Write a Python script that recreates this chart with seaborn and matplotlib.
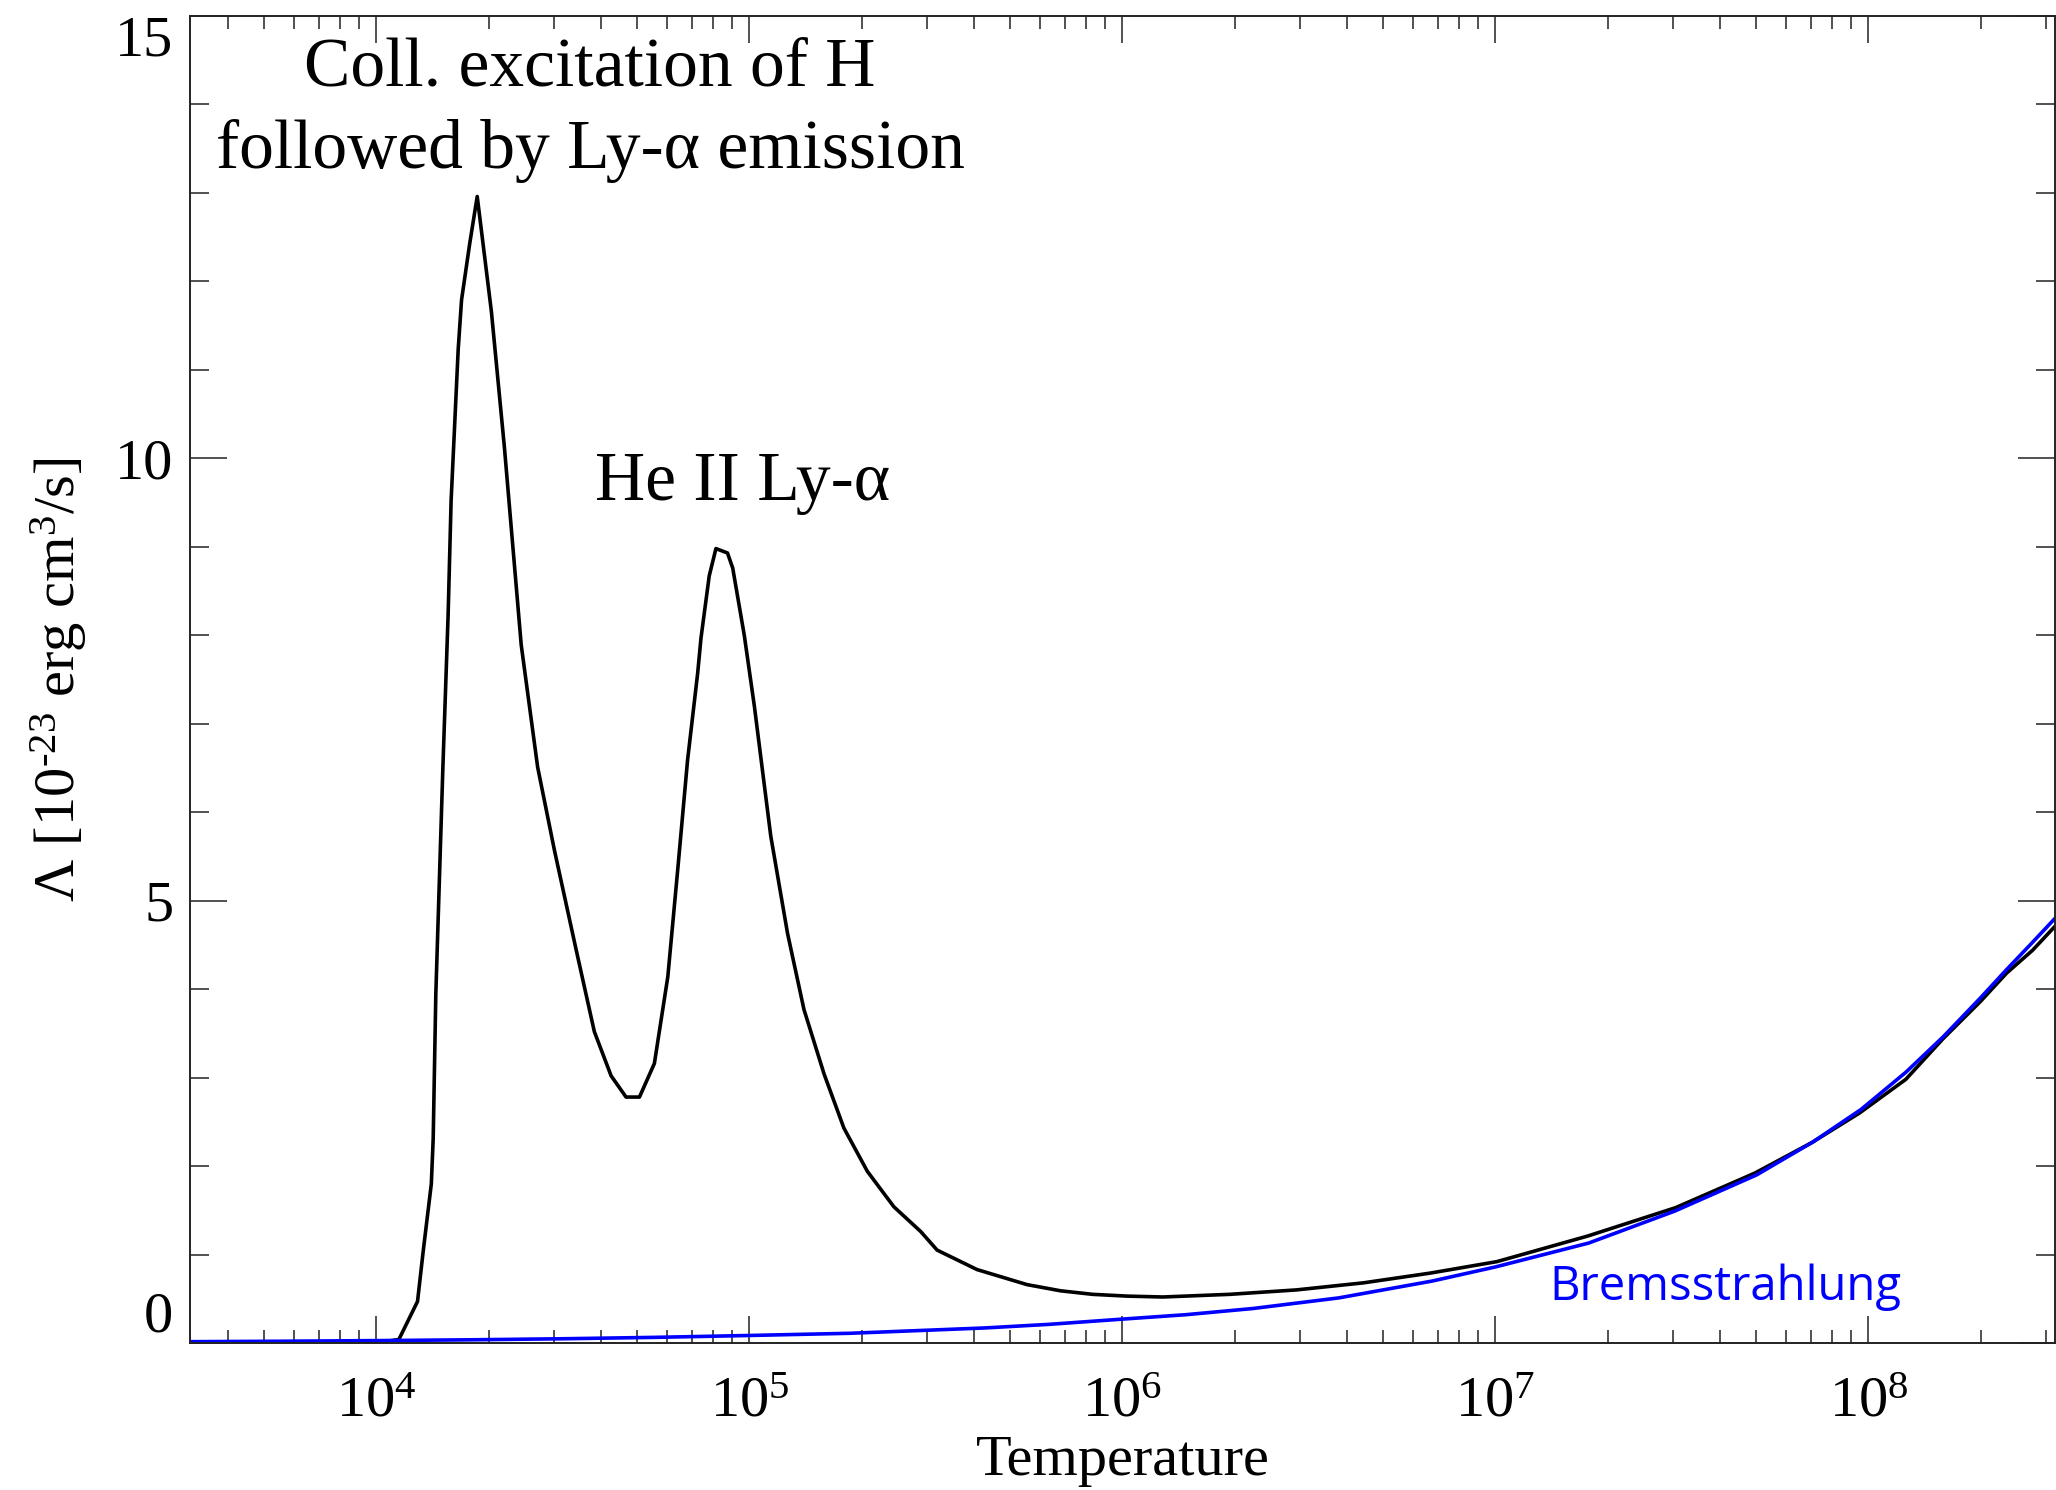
import numpy as np
import pandas as pd
import matplotlib
matplotlib.use("Agg")
import matplotlib.pyplot as plt
from matplotlib.ticker import FixedLocator, LogLocator, MultipleLocator, NullFormatter
import seaborn as sns

# ---- data ----
# total cooling curve: log10(T) and Lambda [1e-23 erg cm^3/s]
total_logT = [3.50, 4.00, 4.06, 4.11, 4.125, 4.147, 4.152, 4.159, 4.178, 4.192, 4.20,
              4.219, 4.228, 4.25, 4.27, 4.308, 4.343, 4.388, 4.432, 4.477, 4.535,
              4.584, 4.629, 4.669, 4.705, 4.745, 4.781, 4.808, 4.834, 4.861, 4.870,
              4.892, 4.910, 4.941, 4.955, 4.986, 5.013, 5.057, 5.102, 5.146, 5.200,
              5.253, 5.316, 5.387, 5.459, 5.503, 5.61, 5.744, 5.834, 5.92, 6.012,
              6.108, 6.287, 6.466, 6.646, 6.825, 7.004, 7.248, 7.483, 7.695, 7.85,
              7.976, 8.10, 8.200, 8.30, 8.37, 8.44, 8.50]
total_lambda = [0.00, 0.00, 0.04, 0.47, 1.03, 1.80, 2.31, 3.94, 6.51, 8.23, 9.52,
                11.23, 11.79, 12.43, 12.96, 11.66, 10.12, 7.89, 6.51, 5.57, 4.45,
                3.52, 3.02, 2.78, 2.78, 3.16, 4.14, 5.37, 6.59, 7.57, 7.97,
                8.67, 8.98, 8.93, 8.76, 8.00, 7.20, 5.73, 4.63, 3.77, 3.04,
                2.43, 1.94, 1.54, 1.26, 1.05, 0.83, 0.66, 0.59, 0.55, 0.53,
                0.52, 0.55, 0.60, 0.68, 0.79, 0.92, 1.21, 1.53, 1.92, 2.27,
                2.60, 2.98, 3.44, 3.86, 4.18, 4.44, 4.71]

# bremsstrahlung contribution
brems_logT = [3.50, 3.75, 4.00, 4.25, 4.50, 4.75, 5.00, 5.27, 5.45, 5.63, 5.80,
              6.00, 6.17, 6.35, 6.58, 6.83, 7.00, 7.25, 7.48, 7.70, 7.85, 7.98,
              8.10, 8.20, 8.30, 8.37, 8.44, 8.50]
brems_lambda = [0.015, 0.02, 0.027, 0.036, 0.048, 0.064, 0.085, 0.11, 0.14, 0.17, 0.21,
                0.27, 0.32, 0.39, 0.51, 0.70, 0.86, 1.13, 1.49, 1.90, 2.27, 2.64,
                3.06, 3.46, 3.90, 4.22, 4.53, 4.80]

x_major = [1e4, 1e5, 1e6, 1e7, 1e8]
x_major_labels = [r"$\mathrm{10^{4}}$", r"$\mathrm{10^{5}}$", r"$\mathrm{10^{6}}$",
                  r"$\mathrm{10^{7}}$", r"$\mathrm{10^{8}}$"]
y_major = [0, 5, 10, 15]
y_major_labels = ["0", "5", "10", "15"]

df_total = pd.DataFrame({"T": 10 ** np.array(total_logT), "L": total_lambda})
df_brems = pd.DataFrame({"T": 10 ** np.array(brems_logT), "L": brems_lambda})

# ---- style ----
sns.set_theme(style="ticks")
plt.rcParams["font.family"] = ["Liberation Serif", "DejaVu Serif"]
plt.rcParams["mathtext.fontset"] = "custom"
plt.rcParams["mathtext.rm"] = "Liberation Serif"
plt.rcParams["mathtext.it"] = "Liberation Serif:italic"
plt.rcParams["mathtext.bf"] = "Liberation Serif:bold"
for key in ["text.color", "axes.labelcolor", "xtick.color", "ytick.color", "axes.edgecolor"]:
    plt.rcParams[key] = "black"

W, H = 2056, 1490
fig = plt.figure(figsize=(W / 100, H / 100), dpi=100)
L, R, T, B = 190, 2055, 16, 1343
ax = fig.add_axes([L / W, 1 - B / H, (R - L) / W, (B - T) / H])

sns.lineplot(data=df_total, x="T", y="L", ax=ax, color="black", lw=2.6,
             estimator=None, sort=False)
sns.lineplot(data=df_brems, x="T", y="L", ax=ax, color="#0000ff", lw=2.6,
             estimator=None, sort=False)

ax.set_xscale("log")
ax.set_xlim(10 ** 3.5, 10 ** 8.5)
ax.set_ylim(0, 15)

ax.xaxis.set_major_locator(FixedLocator(x_major))
ax.set_xticklabels(x_major_labels)
ax.xaxis.set_minor_locator(LogLocator(base=10, subs=np.arange(2, 10), numticks=50))
ax.xaxis.set_minor_formatter(NullFormatter())
ax.yaxis.set_major_locator(FixedLocator(y_major))
ax.set_yticklabels(y_major_labels)
ax.yaxis.set_minor_locator(MultipleLocator(1))

ax.tick_params(axis="both", which="both", direction="in", top=True, right=True,
               color="#222222", width=1.1, labelsize=42, labelcolor="black")
ax.tick_params(axis="x", which="major", length=19.4, pad=24)
ax.tick_params(axis="x", which="minor", length=9.4)
ax.tick_params(axis="y", which="major", length=26.6, pad=12)
ax.tick_params(axis="y", which="minor", length=13.7)
for sp in ax.spines.values():
    sp.set_linewidth(1.4)
    sp.set_color("#222222")

ylabels = ax.get_yticklabels()
ylabels[0].set_va("bottom")
ylabels[-1].set_va("top")

ax.set_xlabel("Temperature", fontsize=42, labelpad=5)
ax.set_ylabel("Λ [10$^{\u201023}$ erg cm$^{3}$/s]", fontsize=42, labelpad=19)

# ---- annotations ----
def fx(px):
    return (px - L) / (R - L)

def fy(py):
    return (B - py) / (B - T)

ax.text(fx(590), fy(85), "Coll. excitation of H", transform=ax.transAxes,
        ha="center", va="baseline", fontsize=50, color="black")
ax.text(fx(590), fy(168), "followed by Ly-α emission", transform=ax.transAxes,
        ha="center", va="baseline", fontsize=50, color="black")
ax.text(fx(743), fy(500), "He II Ly-α", transform=ax.transAxes,
        ha="center", va="baseline", fontsize=50, color="black")
ax.text(fx(1725), fy(1300), "Bremsstrahlung", transform=ax.transAxes,
        ha="center", va="baseline", fontsize=34, color="#0000ff",
        family=["Open Sans", "DejaVu Sans"])

fig.savefig("out.png", dpi=100)
